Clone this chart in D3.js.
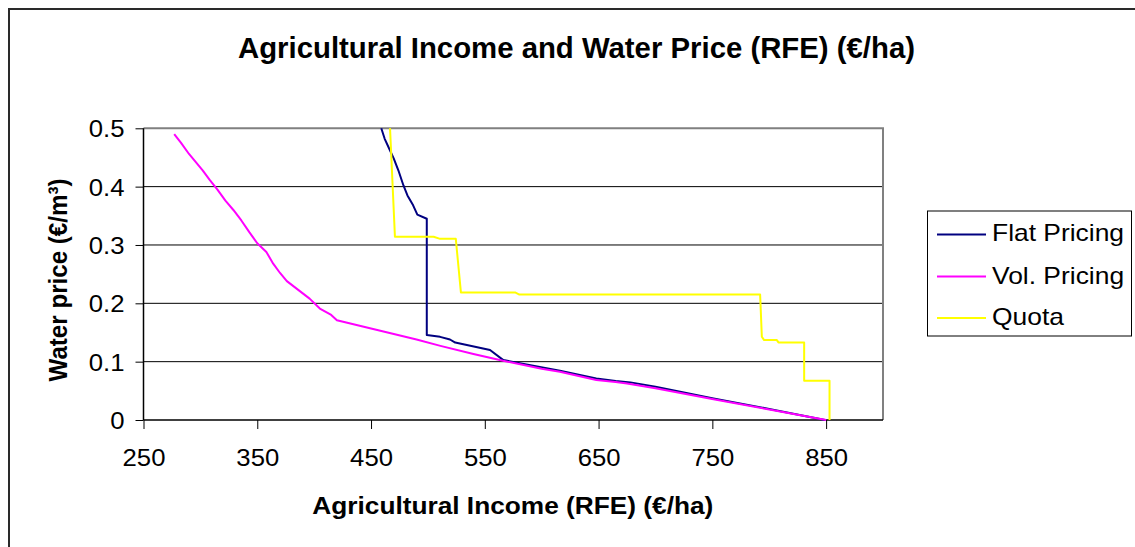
<!DOCTYPE html>
<html>
<head>
<meta charset="utf-8">
<script src="https://cdn.jsdelivr.net/npm/d3@7"></script>
<style>
  html, body { margin: 0; padding: 0; background: #fff; }
  svg { display: block; }
  text { font-family: "Liberation Sans", Arial, sans-serif; fill: #000; }
</style>
</head>
<body>
<svg id="chart" width="1135" height="547"></svg>
<script>
// ---- data ----
const title = "Agricultural Income and Water Price (RFE) (€/ha)";
const xLabel = "Agricultural Income (RFE) (€/ha)";
const yLabel = "Water price (€/m³)";
const xTicks = [250, 350, 450, 550, 650, 750, 850];
const yTicks = [0, 0.1, 0.2, 0.3, 0.4, 0.5];
const seriesNames = ["Flat Pricing", "Vol. Pricing", "Quota"];
const seriesColors = ["#000080", "#FF00FF", "#FFFF00"];

const flatIncome = [459, 462, 466, 470, 474, 478.5, 482, 487, 490.7, 499, 499, 510.7, 519.4, 524, 554.6, 566.3, 616, 648, 665, 678, 700, 751, 800, 849];
const flatPrice  = [0.5, 0.482, 0.465, 0.448, 0.428, 0.402, 0.385, 0.368, 0.352, 0.345, 0.1455, 0.1425, 0.138, 0.1327, 0.12, 0.1027, 0.0845, 0.0713, 0.067, 0.0645, 0.057, 0.037, 0.019, 0];

const volIncome = [277, 283, 290, 296, 302, 308, 315, 322, 329, 336, 343, 350, 358, 364, 370, 376, 386, 396, 405, 415, 420, 450, 490, 511, 540, 566, 600, 616, 648, 665, 675, 700, 751, 800, 850];
const volPrice  = [0.49, 0.475, 0.456, 0.442, 0.428, 0.412, 0.395, 0.376, 0.36, 0.342, 0.322, 0.303, 0.288, 0.268, 0.252, 0.238, 0.223, 0.208, 0.191, 0.18, 0.171, 0.157, 0.138, 0.127, 0.113, 0.1015, 0.088, 0.0827, 0.0685, 0.065, 0.0627, 0.0545, 0.0354, 0.018, 0];

const quotaIncome = [466.7, 471, 505, 510.7, 524.5, 529, 576.6, 580.4, 792, 793.5, 795.5, 806.7, 808.1, 830.7, 830.7, 853, 853];
const quotaPrice  = [0.5, 0.314, 0.314, 0.3105, 0.3105, 0.2186, 0.2186, 0.215, 0.215, 0.1427, 0.137, 0.137, 0.133, 0.133, 0.0673, 0.0673, 0];

// ---- layout ----
const svg = d3.select("#chart");
const X0 = 143.5, X1 = 883, Y0 = 420, Y1 = 128.3;
const x = d3.scaleLinear().domain([250, 900]).range([X0, X1]);
const y = d3.scaleLinear().domain([0, 0.5]).range([Y0, Y1]);
const FONT = '"Liberation Sans", Arial, sans-serif';

function stretch(sel, factor) {
  sel.each(function () {
    const len = this.getComputedTextLength();
    d3.select(this).attr("textLength", len * factor).attr("lengthAdjust", "spacingAndGlyphs");
  });
}

// outer border (extends beyond canvas on right/bottom)
svg.append("rect").attr("x", 9).attr("y", 9).attr("width", 1140).attr("height", 560)
  .attr("fill", "#fff").attr("stroke", "#2a2a2a").attr("stroke-width", 2);

// title
svg.append("text").attr("x", 576.5).attr("y", 57.5).attr("text-anchor", "middle")
  .attr("font-size", 29).attr("font-weight", "bold")
  .attr("textLength", 677).attr("lengthAdjust", "spacingAndGlyphs")
  .text(title);

// gridlines
svg.append("g").selectAll("line").data(yTicks.filter(d => d > 0 && d < 0.5)).join("line")
  .attr("x1", X0).attr("x2", X1).attr("y1", d => y(d)).attr("y2", d => y(d))
  .attr("stroke", "#000").attr("stroke-width", 1);

// plot border top/right (gray)
svg.append("path").attr("d", `M${X0},${Y1}H${X1}V${Y0}`).attr("fill", "none")
  .attr("stroke", "#808080").attr("stroke-width", 2);

// axes
const gx = svg.append("g").attr("transform", `translate(0,${Y0})`)
  .call(d3.axisBottom(x).tickValues(xTicks).tickSize(9).tickPadding(20).tickFormat(d3.format("d")));
const gy = svg.append("g").attr("transform", `translate(${X0},0)`)
  .call(d3.axisLeft(y).tickValues(yTicks).tickSize(8).tickPadding(11).tickFormat(d => d === 0 ? "0" : d3.format(".1f")(d)));
[gx, gy].forEach(g => {
  g.select(".domain").attr("stroke", "#000").attr("stroke-width", 1.5);
  g.selectAll(".tick line").attr("stroke", "#000").attr("stroke-width", 1);
  g.selectAll(".tick text").attr("font-size", 24).attr("font-family", FONT).attr("fill", "#000");
});
gy.selectAll(".tick text").attr("dy", "0.35em");
gx.selectAll(".tick text").attr("dy", "0.71em");
stretch(gx.selectAll(".tick text"), 1.07);
stretch(gy.selectAll(".tick text"), 1.07);
gx.select(".domain").attr("d", `M${X0},0H${X1}`);
gy.select(".domain").attr("d", `M0,${Y0}V${Y1}`);

// axis labels
svg.append("text").attr("x", 512.8).attr("y", 514).attr("text-anchor", "middle")
  .attr("font-size", 24).attr("font-weight", "bold")
  .attr("textLength", 401).attr("lengthAdjust", "spacingAndGlyphs")
  .text(xLabel);
svg.append("text").attr("transform", "translate(67,280) rotate(-90)").attr("text-anchor", "middle")
  .attr("font-size", 26).attr("font-weight", "bold")
  .attr("textLength", 203).attr("lengthAdjust", "spacingAndGlyphs")
  .text(yLabel);

// series
const series = [
  { name: seriesNames[0], color: seriesColors[0], xs: flatIncome, ys: flatPrice },
  { name: seriesNames[1], color: seriesColors[1], xs: volIncome, ys: volPrice },
  { name: seriesNames[2], color: seriesColors[2], xs: quotaIncome, ys: quotaPrice }
];
const line = d3.line().x(d => x(d[0])).y(d => y(d[1]));
svg.append("g").selectAll("path").data(series).join("path")
  .attr("d", s => line(s.xs.map((v, i) => [v, s.ys[i]])))
  .attr("fill", "none").attr("stroke", s => s.color).attr("stroke-width", 2)
  .attr("stroke-linejoin", "round");

// legend
const lg = svg.append("g");
lg.append("rect").attr("x", 927.5).attr("y", 211).attr("width", 204).attr("height", 125)
  .attr("fill", "#fff").attr("stroke", "#000").attr("stroke-width", 1);
const rowY = [234.4, 276.6, 318.1];
series.forEach((s, i) => {
  lg.append("line").attr("x1", 937).attr("x2", 986).attr("y1", rowY[i]).attr("y2", rowY[i])
    .attr("stroke", s.color).attr("stroke-width", 2);
  const t = lg.append("text").attr("x", 992).attr("y", rowY[i] + 7)
    .attr("font-size", 24).text(s.name);
  stretch(t, 1.1);
});
</script>
</body>
</html>
